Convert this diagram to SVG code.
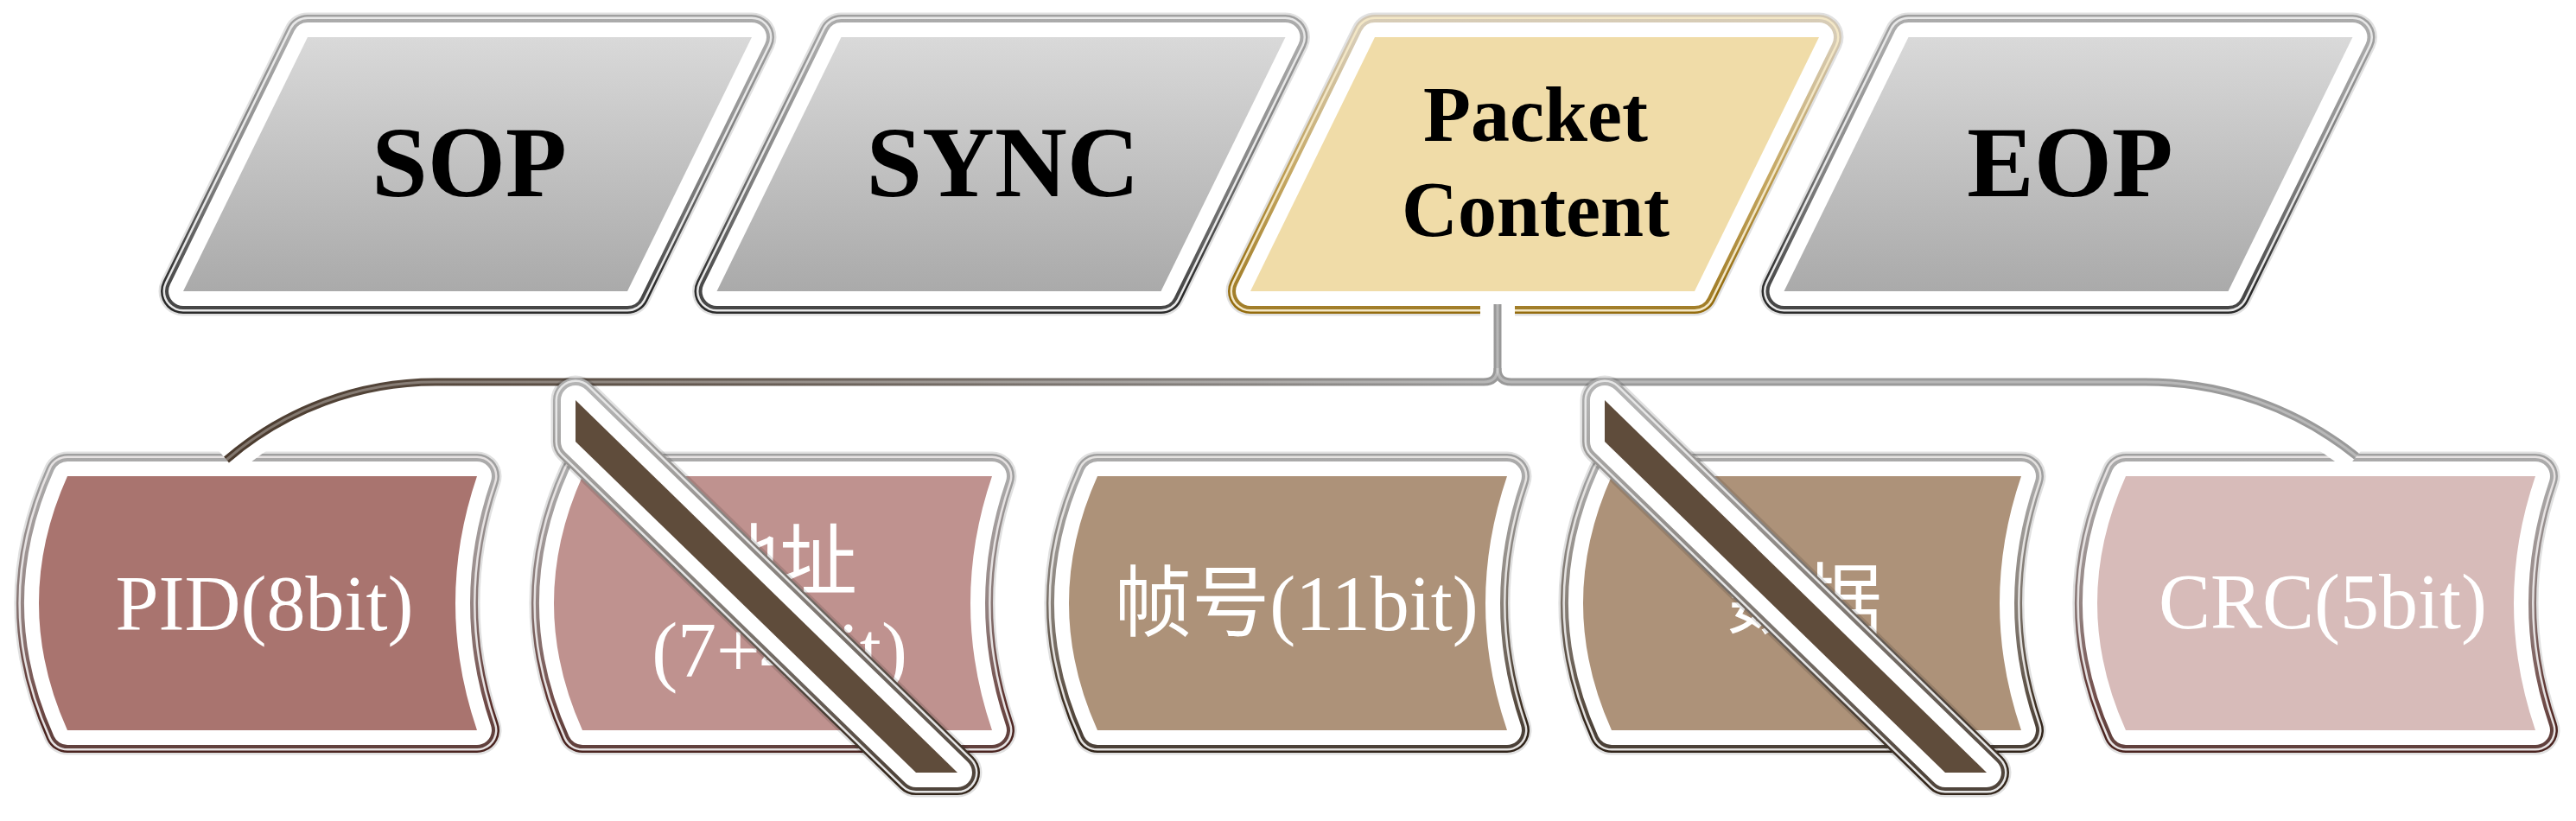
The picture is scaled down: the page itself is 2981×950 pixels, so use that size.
<svg xmlns="http://www.w3.org/2000/svg" xmlns:xlink="http://www.w3.org/1999/xlink" width="2981" height="950" viewBox="0 0 2981 950">
<defs>
  <linearGradient id="grayFill" x1="0" y1="0" x2="0" y2="1">
    <stop offset="0" stop-color="#d9d9d9"/>
    <stop offset="1" stop-color="#aaaaaa"/>
  </linearGradient>
  <linearGradient id="grayRim" x1="0" y1="0" x2="0" y2="1">
    <stop offset="0" stop-color="#a0a0a0"/>
    <stop offset="0.5" stop-color="#767676"/>
    <stop offset="1" stop-color="#2a2a2a"/>
  </linearGradient>
  <linearGradient id="goldRim" x1="0" y1="0" x2="0" y2="1">
    <stop offset="0" stop-color="#d2c7b3"/>
    <stop offset="0.55" stop-color="#bd9c50"/>
    <stop offset="1" stop-color="#946c0e"/>
  </linearGradient>
  <linearGradient id="redRim" x1="0" y1="0" x2="0" y2="1">
    <stop offset="0" stop-color="#a0a0a0"/>
    <stop offset="0.5" stop-color="#877573"/>
    <stop offset="0.9" stop-color="#5a2f2b"/>
    <stop offset="1" stop-color="#4a2420"/>
  </linearGradient>
  <linearGradient id="brownRim" x1="0" y1="0" x2="0" y2="1">
    <stop offset="0" stop-color="#a0a0a0"/>
    <stop offset="0.5" stop-color="#7a7168"/>
    <stop offset="0.9" stop-color="#3f3124"/>
    <stop offset="1" stop-color="#30241a"/>
  </linearGradient>
  <linearGradient id="slashRim" x1="0" y1="0" x2="0" y2="1">
    <stop offset="0" stop-color="#aaaaaa"/>
    <stop offset="0.6" stop-color="#6a625b"/>
    <stop offset="1" stop-color="#35281d"/>
  </linearGradient>
  <linearGradient id="connGrad" gradientUnits="userSpaceOnUse" x1="250" y1="0" x2="1750" y2="0">
    <stop offset="0" stop-color="#4a3a2d"/>
    <stop offset="0.45" stop-color="#6a6058"/>
    <stop offset="1" stop-color="#9a9a9a"/>
  </linearGradient>
  <polygon id="topShape" points="-185,43 329,43 185,337 -329,337"/>
  <path id="botShape" d="M-237,551 L237,551 Q187,698 237,845 L-237,845 Q-303,698 -237,551 Z"/>
  <polygon id="slashShape" points="-245,463 197,894 149,894 -245,511"/>
</defs>
<style>
  .sh{fill:none;stroke:#000;stroke-opacity:.12;stroke-width:57;stroke-linejoin:round}
  .r1{fill:none;stroke-width:52;stroke-linejoin:round}
  .r2{fill:none;stroke-width:47;stroke-linejoin:round}
  .r3{fill:none;stroke-width:42;stroke-linejoin:round;opacity:.85}
  .wb{fill:none;stroke:#fff;stroke-width:34;stroke-linejoin:round}
  .tt{font-family:"Liberation Serif","Times New Roman",serif;font-weight:bold;text-anchor:middle;fill:#000}
  .bt{font-family:"Liberation Serif","Times New Roman","Noto Sans CJK SC",serif;font-size:90px;text-anchor:middle;fill:#fff}
  .halo{fill:none;stroke:#fff;stroke-width:40;stroke-linecap:butt;stroke-linejoin:round}
  .line{fill:none;stroke:url(#connGrad);stroke-width:9;stroke-linecap:butt;stroke-linejoin:round}
  .lineHi{fill:none;stroke:#fff;stroke-opacity:.3;stroke-width:3;stroke-linejoin:round}
</style>

<rect width="2981" height="950" fill="#fff"/>

<!-- top row -->
<g id="node-sop" transform="translate(541 0)">
  <use xlink:href="#topShape" class="sh"/>
  <use xlink:href="#topShape" class="r1" stroke="url(#grayRim)"/>
  <use xlink:href="#topShape" class="r2" stroke="#e8e8e8"/>
  <use xlink:href="#topShape" class="r3" stroke="url(#grayRim)"/>
  <use xlink:href="#topShape" class="wb"/>
  <use xlink:href="#topShape" fill="url(#grayFill)"/>
  <text class="tt" x="2" y="227" font-size="116">SOP</text>
</g>
<g id="node-sync" transform="translate(1158.5 0)">
  <use xlink:href="#topShape" class="sh"/>
  <use xlink:href="#topShape" class="r1" stroke="url(#grayRim)"/>
  <use xlink:href="#topShape" class="r2" stroke="#e8e8e8"/>
  <use xlink:href="#topShape" class="r3" stroke="url(#grayRim)"/>
  <use xlink:href="#topShape" class="wb"/>
  <use xlink:href="#topShape" fill="url(#grayFill)"/>
  <text class="tt" x="2" y="227" font-size="116">SYNC</text>
</g>
<g id="node-packet-content" transform="translate(1776 0)">
  <use xlink:href="#topShape" class="sh"/>
  <use xlink:href="#topShape" class="r1" stroke="url(#goldRim)"/>
  <use xlink:href="#topShape" class="r2" stroke="#f3e7c6"/>
  <use xlink:href="#topShape" class="r3" stroke="url(#goldRim)"/>
  <use xlink:href="#topShape" class="wb"/>
  <use xlink:href="#topShape" fill="#f0dca8"/>
  <text class="tt" font-size="90"><tspan x="1" y="163">Packet</tspan><tspan x="1" y="273">Content</tspan></text>
</g>
<g id="node-eop" transform="translate(2393.5 0)">
  <use xlink:href="#topShape" class="sh"/>
  <use xlink:href="#topShape" class="r1" stroke="url(#grayRim)"/>
  <use xlink:href="#topShape" class="r2" stroke="#e8e8e8"/>
  <use xlink:href="#topShape" class="r3" stroke="url(#grayRim)"/>
  <use xlink:href="#topShape" class="wb"/>
  <use xlink:href="#topShape" fill="url(#grayFill)"/>
  <text class="tt" x="2" y="227" font-size="116">EOP</text>
</g>

<!-- bottom row -->
<g id="node-pid" transform="translate(315 0)">
  <use xlink:href="#botShape" class="sh"/>
  <use xlink:href="#botShape" class="r1" stroke="url(#redRim)"/>
  <use xlink:href="#botShape" class="r2" stroke="#e6e2e2"/>
  <use xlink:href="#botShape" class="r3" stroke="url(#redRim)"/>
  <use xlink:href="#botShape" class="wb"/>
  <use xlink:href="#botShape" fill="#a9746f"/>
  <text class="bt" x="-9" y="729">PID(8bit)</text>
</g>
<g id="node-addr" transform="translate(911 0)">
  <use xlink:href="#botShape" class="sh"/>
  <use xlink:href="#botShape" class="r1" stroke="url(#redRim)"/>
  <use xlink:href="#botShape" class="r2" stroke="#e6e2e2"/>
  <use xlink:href="#botShape" class="r3" stroke="url(#redRim)"/>
  <use xlink:href="#botShape" class="wb"/>
  <use xlink:href="#botShape" fill="#bf928f"/>
  <text class="bt"><tspan x="-9" y="681">地址</tspan><tspan x="-9" y="783">(7+4bit)</tspan></text>
</g>
<g id="node-frame" transform="translate(1507 0)">
  <use xlink:href="#botShape" class="sh"/>
  <use xlink:href="#botShape" class="r1" stroke="url(#brownRim)"/>
  <use xlink:href="#botShape" class="r2" stroke="#e4e2e0"/>
  <use xlink:href="#botShape" class="r3" stroke="url(#brownRim)"/>
  <use xlink:href="#botShape" class="wb"/>
  <use xlink:href="#botShape" fill="#ad9279"/>
  <text class="bt" x="-7" y="729">帧号(11bit)</text>
</g>
<g id="node-data" transform="translate(2102 0)">
  <use xlink:href="#botShape" class="sh"/>
  <use xlink:href="#botShape" class="r1" stroke="url(#brownRim)"/>
  <use xlink:href="#botShape" class="r2" stroke="#e4e2e0"/>
  <use xlink:href="#botShape" class="r3" stroke="url(#brownRim)"/>
  <use xlink:href="#botShape" class="wb"/>
  <use xlink:href="#botShape" fill="#ad9279"/>
  <text class="bt" x="-14" y="726">数据</text>
</g>
<g id="node-crc" transform="translate(2697 0)">
  <use xlink:href="#botShape" class="sh"/>
  <use xlink:href="#botShape" class="r1" stroke="url(#redRim)"/>
  <use xlink:href="#botShape" class="r2" stroke="#e6e2e2"/>
  <use xlink:href="#botShape" class="r3" stroke="url(#redRim)"/>
  <use xlink:href="#botShape" class="wb"/>
  <use xlink:href="#botShape" fill="#d7bbb9"/>
  <text class="bt" x="-9" y="727">CRC(5bit)</text>
</g>

<!-- connectors -->
<g id="connectors">
  <path class="halo" d="M1733,352 L1733,426 Q1733,442 1717,442 L504,442 A370,370 0 0 0 262,532"/>
  <path class="halo" d="M1733,426 Q1733,442 1749,442 L2483,442 A389,389 0 0 1 2727,528"/>
  <path class="line" d="M1733,352 L1733,426 Q1733,442 1717,442 L504,442 A370,370 0 0 0 262,532"/>
  <path class="line" d="M1733,426 Q1733,442 1749,442 L2483,442 A389,389 0 0 1 2727,528"/>
  <path class="lineHi" d="M1733,352 L1733,426 Q1733,442 1717,442 L504,442 A370,370 0 0 0 262,532"/>
  <path class="lineHi" d="M1733,426 Q1733,442 1749,442 L2483,442 A389,389 0 0 1 2727,528"/>
</g>

<!-- strike-through bars -->
<g id="slash-addr" transform="translate(911 0)">
  <use xlink:href="#slashShape" class="sh"/>
  <use xlink:href="#slashShape" class="r1" stroke="url(#slashRim)"/>
  <use xlink:href="#slashShape" class="r2" stroke="#e6e6e6"/>
  <use xlink:href="#slashShape" class="r3" stroke="url(#slashRim)"/>
  <use xlink:href="#slashShape" class="wb"/>
  <use xlink:href="#slashShape" fill="#5f4c3b"/>
</g>
<g id="slash-data" transform="translate(2102 0)">
  <use xlink:href="#slashShape" class="sh"/>
  <use xlink:href="#slashShape" class="r1" stroke="url(#slashRim)"/>
  <use xlink:href="#slashShape" class="r2" stroke="#e6e6e6"/>
  <use xlink:href="#slashShape" class="r3" stroke="url(#slashRim)"/>
  <use xlink:href="#slashShape" class="wb"/>
  <use xlink:href="#slashShape" fill="#5f4c3b"/>
</g>
</svg>
